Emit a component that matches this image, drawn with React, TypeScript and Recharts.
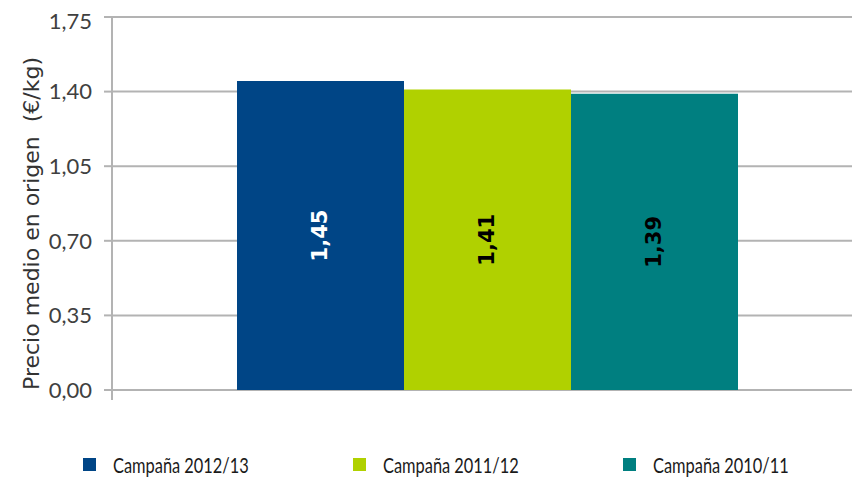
import React from 'react';
import { BarChart, Bar, XAxis, YAxis, CartesianGrid, LabelList, Customized } from 'recharts';

const categories = ['Precio'];
const campana2012 = [1.45];
const campana2011 = [1.41];
const campana2010 = [1.39];
const seriesNames = ['Campaña 2012/13', 'Campaña 2011/12', 'Campaña 2010/11'];
const seriesKeys = ['c2012', 'c2011', 'c2010'];
const seriesColors = ['#004586', '#b0d100', '#007f80'];
const labelColors = ['#ffffff', '#000000', '#000000'];
const yTicks = [0, 0.35, 0.7, 1.05, 1.4, 1.75];
const yTitle = 'Precio medio en origen  (€/kg)';

const data = categories.map((name, i) => ({
  name,
  c2012: campana2012[i],
  c2011: campana2011[i],
  c2010: campana2010[i],
}));

const gridColor = '#b3b3b3';
const fmt = (v: number) => v.toFixed(2).replace('.', ',');

const makeLabel = (color: string) => (props: any) => {
  const { x, y, width, height, value } = props;
  const cx = x + width / 2;
  const cy = y + height / 2;
  return (
    <text
      x={cx}
      y={cy}
      transform={`rotate(-90 ${cx} ${cy})`}
      textAnchor="middle"
      dominantBaseline="central"
      fill={color}
      fontFamily="DejaVu Sans"
      fontWeight="bold"
      fontSize={21}
    >
      {fmt(value)}
    </text>
  );
};

const YTitle = (props: any) => {
  const { viewBox } = props;
  const x = viewBox.x + 23;
  const y = viewBox.y + viewBox.height / 2 + 20;
  return (
    <text
      x={x}
      y={y}
      transform={`rotate(-90 ${x} ${y})`}
      textAnchor="middle"
      dominantBaseline="central"
      fill="#333333"
      style={{ fontFamily: 'DejaVu Sans', fontSize: 22, whiteSpace: 'pre' }}
    >
      {yTitle}
    </text>
  );
};

// small tick under the origin, like the category axis boundary tick
const OriginTick = () => (
  <line x1={104} y1={382} x2={104} y2={392} stroke={gridColor} strokeWidth={2} />
);

export default function App() {
  return (
    <div style={{ width: 852, height: 472, overflow: 'hidden', position: 'relative' }}>
      <BarChart
        width={855}
        height={400}
        data={data}
        margin={{ top: 9, right: 0, bottom: 18, left: 0 }}
        barGap={0}
      >
        <CartesianGrid horizontal vertical={false} stroke={gridColor} strokeWidth={2} />
        <XAxis dataKey="name" hide />
        <YAxis
          width={104}
          domain={[0, 1.75]}
          ticks={yTicks}
          tickFormatter={fmt}
          tick={{ fontFamily: 'Lato', fontSize: 22, fill: '#404040' }}
          tickLine={{ stroke: gridColor, strokeWidth: 2 }}
          tickSize={8}
          tickMargin={12}
          axisLine={{ stroke: gridColor, strokeWidth: 2 }}
          label={<YTitle />}
        />
        {seriesKeys.map((k, i) => (
          <Bar key={k} dataKey={k} name={seriesNames[i]} fill={seriesColors[i]} barSize={167} isAnimationActive={false}>
            <LabelList dataKey={k} content={makeLabel(labelColors[i])} />
          </Bar>
        ))}
        <Customized component={OriginTick} />
      </BarChart>
      <div
        style={{
          position: 'absolute',
          left: 75,
          top: 444,
          display: 'flex',
          fontFamily: 'Lato',
          fontSize: 21,
          lineHeight: '25px',
          color: '#1a1a1a',
          whiteSpace: 'nowrap',
        }}
      >
        {seriesNames.map((n, i) => (
          <div key={n} style={{ width: 270, display: 'flex', alignItems: 'center' }}>
            <span style={{ width: 13, height: 13, background: seriesColors[i], marginRight: 17, display: 'inline-block' }} />
            <span style={{ display: 'inline-block', transform: 'scaleX(0.78)', transformOrigin: 'left center' }}>{n}</span>
          </div>
        ))}
      </div>
    </div>
  );
}
